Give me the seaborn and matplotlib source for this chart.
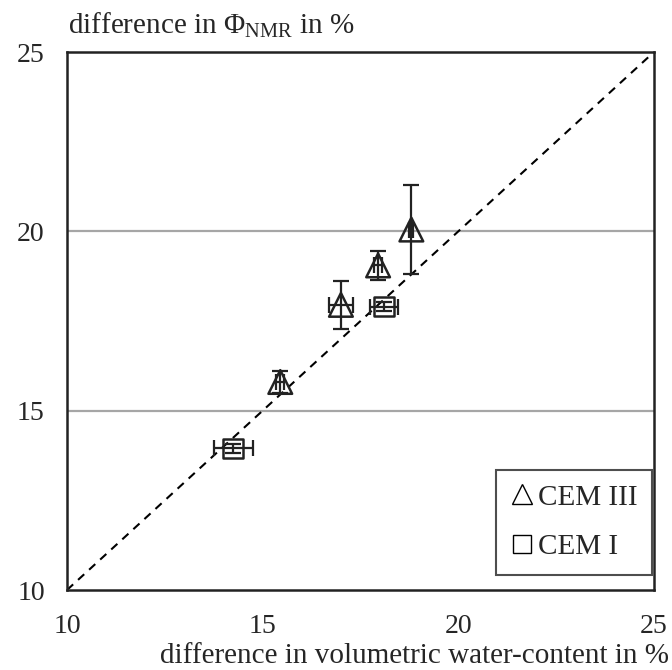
import numpy as np
import pandas as pd
import matplotlib
matplotlib.use("Agg")
import matplotlib.pyplot as plt
import seaborn as sns
from matplotlib.lines import Line2D

# data
cem3_x = [15.45, 17.0, 17.95, 18.8]
cem3_y = [15.8, 17.95, 19.05, 20.05]
cem3_xerr = [0.1, 0.3, 0.1, 0.05]
cem3_yerr = [0.3, 0.66, 0.4, 1.25]

cem1_x = [14.25, 18.1]
cem1_y = [13.95, 17.9]
cem1_xerr = [0.5, 0.35]
cem1_yerr = [0.12, 0.12]

ticks = [10, 15, 20, 25]
series_names = ["CEM III", "CEM I"]

sns.set_style("white")
plt.rcParams['font.family'] = ['Liberation Serif', 'DejaVu Serif']
plt.rcParams['mathtext.fontset'] = 'custom'
plt.rcParams['mathtext.rm'] = 'Liberation Serif'
plt.rcParams['mathtext.it'] = 'Liberation Serif:italic'

df3 = pd.DataFrame({"x": cem3_x, "y": cem3_y})
df1 = pd.DataFrame({"x": cem1_x, "y": cem1_y})

fig = plt.figure(figsize=(6.72, 6.70), dpi=100)
ax = fig.add_axes([67 / 672, 1 - 590 / 670, 587 / 672, 538 / 670])

# gridlines and 1:1 line
for g in [15, 20]:
    ax.axhline(g, color="#a6a6a6", lw=1.6, zorder=0)
ax.plot([10, 25], [10, 25], color="black", lw=1.5, ls=(0, (4, 3.2)), zorder=1)

# error bars
ax.errorbar(cem3_x, cem3_y, xerr=cem3_xerr, yerr=cem3_yerr, fmt="none",
            ecolor="#222222", elinewidth=1.6, capsize=6, capthick=1.6, zorder=2)
ax.errorbar(cem1_x, cem1_y, xerr=cem1_xerr, yerr=cem1_yerr, fmt="none",
            ecolor="#222222", elinewidth=1.6, capsize=6, capthick=1.6, zorder=2)

# markers
sns.scatterplot(data=df3, x="x", y="y", marker="^", facecolor="none", edgecolor="#222222",
                linewidth=1.8, s=290, legend=False, ax=ax, zorder=3)
sns.scatterplot(data=df1, x="x", y="y", marker="s", facecolor="none", edgecolor="#222222",
                linewidth=1.8, s=200, legend=False, ax=ax, zorder=3)

ax.set_xlim(10, 25)
ax.set_ylim(10, 25)
ax.set_xticks(np.arange(10, 25.1, 2.5))
ax.set_xticklabels(["10", "", "15", "", "20", "", "25"])
ax.set_yticks(ticks)
ax.set_yticklabels([str(t) for t in ticks])
ax.tick_params(axis="x", direction="out", length=6, width=1.5, pad=11, labelsize=20)
ax.tick_params(axis="y", direction="out", length=8, width=1.5, pad=8, labelsize=20)
ax.set_xlabel("difference in volumetric water-content in %", fontsize=21)
ax.xaxis.set_label_coords(1.025, -0.122)
ax.xaxis.label.set_horizontalalignment("right")
ax.xaxis.label.set_verticalalignment("center")
ax.set_ylabel("")
for sp in ax.spines.values():
    sp.set_color("#222222")
    sp.set_linewidth(1.8)

fig.text(68 / 672, 1 - 25 / 670, r"difference in $\Phi_{\mathrm{NMR}}$ in %", fontsize=21,
         ha="left", va="center")

handles = [
    Line2D([], [], marker="^", ls="none", mfc="none", mec="black", mew=1.0, ms=14),
    Line2D([], [], marker="s", ls="none", mfc="none", mec="black", mew=1.0, ms=13),
]
leg = ax.legend(handles, series_names, loc="lower right", bbox_to_anchor=(0.997, 0.028),
                fontsize=21, frameon=True, fancybox=False, borderpad=0.5,
                labelspacing=0.8, handlelength=0.8, handletextpad=0.15, borderaxespad=0)
leg.get_frame().set_edgecolor("#222222")
leg.get_frame().set_linewidth(1.5)

fig.savefig("out.png", dpi=100)
